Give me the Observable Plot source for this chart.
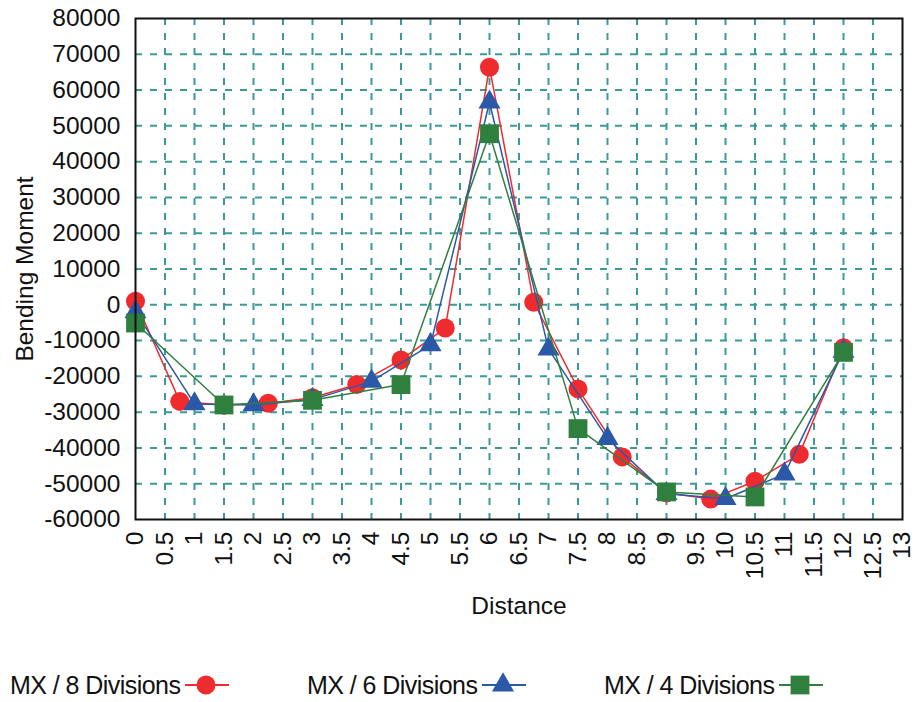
<!DOCTYPE html>
<html>
<head>
<meta charset="utf-8">
<script src="https://cdn.jsdelivr.net/npm/d3@7"></script>
<script src="https://cdn.jsdelivr.net/npm/@observablehq/plot@0.6"></script>
<style>
  html, body { margin: 0; padding: 0; background: #fff; }
  #wrap { position: relative; width: 918px; height: 702px; font-family: "Liberation Sans", Arial, sans-serif; }
  #legend { position: absolute; left: 0; top: 640px; width: 918px; height: 62px; }
  .item { position: absolute; top: 30px; height: 30px; display: flex; align-items: center; font-size: 25px; letter-spacing: -0.55px; color: #111; white-space: nowrap; }
  .item svg { margin-left: 5px; }
</style>
</head>
<body>
<div id="wrap"><div id="chart"></div><div id="legend"></div></div>
<script>
// Data
const seriesNames = ["MX / 8 Divisions", "MX / 6 Divisions", "MX / 4 Divisions"];
const x8 = [0, 0.75, 1.5, 2.25, 3, 3.75, 4.5, 5.25, 6, 6.75, 7.5, 8.25, 9, 9.75, 10.5, 11.25, 12];
const mx8 = [1000, -27000, -28000, -27500, -26000, -22300, -15400, -6500, 66400, 700, -23500, -42500, -52500, -54300, -49300, -41800, -12000];
const x6 = [0, 1, 2, 3, 4, 5, 6, 7, 8, 9, 10, 11, 12];
const mx6 = [-2000, -27700, -28000, -26500, -21400, -11200, 56600, -12400, -37400, -52800, -54200, -47300, -13000];
const x4 = [0, 1.5, 3, 4.5, 6, 7.5, 9, 10.5, 12];
const mx4 = [-5100, -28000, -26700, -22300, 47800, -34600, -52300, -53700, -13300];
const xTicks = [0,0.5,1,1.5,2,2.5,3,3.5,4,4.5,5,5.5,6,6.5,7,7.5,8,8.5,9,9.5,10,10.5,11,11.5,12,12.5,13];
const yTicks = [-60000,-50000,-40000,-30000,-20000,-10000,0,10000,20000,30000,40000,50000,60000,70000,80000];

const colors = ["#ee2b2f", "#2c58a8", "#2f7f3f"];
const symbols = ["circle", "triangle", "square"];
const radii = [9.5, 8.2, 10.6];

const series = [
  x8.map((x, i) => ({x, y: mx8[i]})),
  x6.map((x, i) => ({x, y: mx6[i]})),
  x4.map((x, i) => ({x, y: mx4[i]}))
];

const gridColor = "#3b9a97";
const fs = 24.5;
const marks = [
  Plot.ruleX(xTicks.slice(1, -1), {stroke: gridColor, strokeWidth: 2, strokeDasharray: "7,8"}),
  Plot.ruleY(yTicks.slice(1, -1), {stroke: gridColor, strokeWidth: 2, strokeDasharray: "7,8"}),
  Plot.axisX({ticks: xTicks, tickFormat: d => String(d), tickRotate: -90, tickSize: 0, tickPadding: 12, label: null, fontSize: fs, fill: "#111"}),
  Plot.axisY({ticks: yTicks, tickFormat: d => String(d), tickSize: 0, tickPadding: 15, label: null, fontSize: fs, fill: "#111"}),
  Plot.text(["Distance"], {frameAnchor: "bottom", lineAnchor: "middle", textAnchor: "middle", dy: 87, fontSize: fs, fill: "#111"}),
  Plot.text(["Bending Moment"], {frameAnchor: "left", textAnchor: "middle", lineAnchor: "middle", dx: -110, rotate: -90, fontSize: fs, fill: "#111"})
];
series.forEach((data, k) => {
  marks.push(Plot.line(data, {x: "x", y: "y", stroke: colors[k], strokeWidth: 1.5}));
  marks.push(Plot.dot(data, {x: "x", y: "y", symbol: symbols[k], r: radii[k], fill: colors[k], stroke: "none"}));
});
marks.push(Plot.frame({stroke: "#111", strokeWidth: 2}));

const chart = Plot.plot({
  width: 918,
  height: 640,
  marginLeft: 135,
  marginRight: 16,
  marginTop: 18,
  marginBottom: 121,
  style: {fontFamily: "'Liberation Sans', Arial, sans-serif", background: "#fff"},
  x: {domain: [0, 13]},
  y: {domain: [-60000, 80000]},
  marks
});
document.getElementById("chart").appendChild(chart);

// Legend
const legend = d3.select("#legend");
const lefts = [10, 307, 604];
seriesNames.forEach((name, k) => {
  const item = legend.append("div").attr("class", "item").style("left", lefts[k] + "px");
  item.append("span").text(name);
  const s = item.append("svg").attr("width", 44).attr("height", 30);
  s.append("line").attr("x1", 0).attr("x2", 44).attr("y1", 15).attr("y2", 15).attr("stroke", colors[k]).attr("stroke-width", 2);
  const sym = {circle: d3.symbolCircle, triangle: d3.symbolTriangle, square: d3.symbolSquare}[symbols[k]];
  s.append("path").attr("transform", "translate(21,15)")
    .attr("d", d3.symbol(sym, Math.PI * radii[k] * radii[k])())
    .attr("fill", colors[k]);
});
</script>
</body>
</html>
